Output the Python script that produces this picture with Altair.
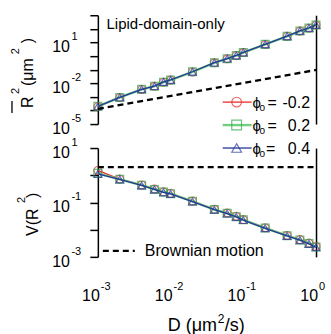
import altair as alt
import pandas as pd

FONT = "Liberation Sans"

# Diffusion coefficient of the lipid domains (um^2/s)
D_vals = [0.001, 0.002, 0.004, 0.006, 0.008, 0.01, 0.02, 0.04, 0.06, 0.08,
          0.1, 0.2, 0.4, 0.6, 0.8, 1.0]

# Mean squared displacement R^2 (um^2) for each phi0
msd_m02 = [1.9e-4, 8.9e-4, 3.5e-3, 6.0e-3, 1.2e-2, 1.7e-2, 6.8e-2, 0.32, 0.63,
           1.07, 1.8, 7.1, 28, 68, 112, 190]
msd_p02 = [2.0e-4, 9.0e-4, 3.6e-3, 6.1e-3, 1.2e-2, 1.7e-2, 6.9e-2, 0.32, 0.64,
           1.08, 1.8, 7.2, 28, 69, 113, 192]
msd_p04 = [2.0e-4, 9.2e-4, 3.6e-3, 6.2e-3, 1.25e-2, 1.75e-2, 7.0e-2, 0.33, 0.65,
           1.1, 1.85, 7.3, 29, 70, 115, 195]

# Variance V(R^2) for each phi0
var_m02 = [1.5, 0.72, 0.44, 0.31, 0.245, 0.215, 0.112, 0.056, 0.041, 0.031,
           0.0235, 0.0118, 0.0061, 0.0043, 0.0032, 0.0024]
var_p02 = [1.18, 0.71, 0.43, 0.30, 0.24, 0.21, 0.11, 0.055, 0.040, 0.030,
           0.023, 0.0115, 0.006, 0.0042, 0.0031, 0.0023]
var_p04 = [1.12, 0.70, 0.42, 0.30, 0.235, 0.205, 0.108, 0.054, 0.039, 0.0295,
           0.0225, 0.0112, 0.0059, 0.0041, 0.0030, 0.00225]

# Brownian motion reference
brown_D = [0.001, 1.0]
brown_msd = [1.3e-4, 0.095]
brown_var = [2.0, 2.0]

# Series styling
phi_labels = ["-0.2", "0.2", "0.4"]
line_colors = ["#ec2a2a", "#72cf80", "#26379b"]
mark_colors = ["#ec2a2a", "#2fa64c", "#26379b"]
line_widths = [1.3, 2.4, 1.3]
shapes = ["circle", "square", "triangle-up"]

# Tick values and label exponents
top_minor = [10.0 ** k for k in range(-5, 4)]
top_lab = [1e-5, 1e-2, 1e1]
top_exp = ["-5", "-2", "1"]
bot_minor = [10.0 ** k for k in range(-3, 2)]
bot_lab = [1e-3, 1e-1, 1e1]
bot_exp = ["-3", "-1", "1"]
x_minor = [m * 10.0 ** k for k in range(-3, 0) for m in range(1, 10)] + [1.0]
x_lab = [1e-3, 1e-2, 1e-1, 1.0]
x_exp = ["-3", "-2", "-1", "0"]

W = 218.5
H_TOP = 109
H_BOT = 109

xscale = alt.Scale(type="log", domain=[1e-3, 1], nice=False)
ys_top = alt.Scale(type="log", domain=[1e-5, 1e3], nice=False)
ys_bot = alt.Scale(type="log", domain=[1e-3, 10], nice=False)

ONE = pd.DataFrame({"a": [0]})


def line_axis(**kw):
    base = dict(title=None, grid=False, labels=False, domainColor="black",
                tickColor="black", domainWidth=1.5, tickWidth=1.5)
    base.update(kw)
    return alt.Axis(**base)


def txt(x, y, s, size=16, align="left", angle=None, baseline="alphabetic"):
    props = dict(align=align, baseline=baseline, fontSize=size, font=FONT,
                 color="black")
    if angle is not None:
        props["angle"] = angle
    return alt.Chart(ONE).mark_text(**props).encode(
        x=alt.value(x), y=alt.value(y), text=alt.value(s))


def series_layers(values, yscale, xaxis, yaxis):
    layers = []
    for i, vals in enumerate(values):
        df = pd.DataFrame({"D": D_vals, "v": vals})
        xa = xaxis if i == 0 else None
        ya = yaxis if i == 0 else None
        layers.append(alt.Chart(df).mark_line(
            color=line_colors[i], strokeWidth=line_widths[i]).encode(
            x=alt.X("D:Q", scale=xscale, axis=xa),
            y=alt.Y("v:Q", scale=yscale, axis=ya)))
        layers.append(alt.Chart(df).mark_point(
            shape=shapes[i], color=mark_colors[i], filled=False, size=62,
            strokeWidth=1.2).encode(
            x=alt.X("D:Q", scale=xscale, axis=None),
            y=alt.Y("v:Q", scale=yscale, axis=None)))
    return layers


def brown_layer(vals, yscale, yaxis):
    df = pd.DataFrame({"D": brown_D, "v": vals})
    return alt.Chart(df).mark_line(color="black", strokeWidth=2.3,
                                   strokeDash=[6, 4]).encode(
        x=alt.X("D:Q", scale=xscale, axis=None),
        y=alt.Y("v:Q", scale=yscale, axis=yaxis))


def y_tick_labels(ticks, exps, yscale):
    df = pd.DataFrame({"t": ticks, "e": exps})
    base = alt.Chart(df).encode(y=alt.Y("t:Q", scale=yscale, axis=None))
    return [
        base.mark_text(text="10", align="right", baseline="alphabetic", dy=10,
                       fontSize=16, font=FONT, color="black").encode(x=alt.value(-28)),
        base.mark_text(align="left", baseline="alphabetic", dy=-2,
                       fontSize=11, font=FONT, color="black").encode(
            x=alt.value(-26.5), text="e:N"),
    ]


# ---------- top panel: mean squared displacement ----------
frame = alt.Chart(ONE).mark_rect(opacity=0).encode(
    x=alt.value(-98), x2=alt.value(233), y=alt.value(-15), y2=alt.value(319))

top_layers = [frame]
top_layers += series_layers(
    [msd_m02, msd_p02, msd_p04], ys_top,
    line_axis(orient="top", offset=4.5, ticks=False),
    line_axis(orient="left", values=top_minor, tickSize=8))
top_layers.append(brown_layer(brown_msd, ys_top,
                              line_axis(orient="right", ticks=False)))
top_layers += y_tick_labels(top_lab, top_exp, ys_top)

# legend for phi0
for i, lab in enumerate(phi_labels):
    ry = 87 + 23 * i
    top_layers.append(alt.Chart(ONE).mark_rule(
        color=line_colors[i], strokeWidth=line_widths[i]).encode(
        x=alt.value(125), x2=alt.value(154), y=alt.value(ry)))
    top_layers.append(alt.Chart(ONE).mark_point(
        shape=shapes[i], color=mark_colors[i], filled=False, size=95,
        strokeWidth=1.2).encode(x=alt.value(139), y=alt.value(ry)))
    top_layers.append(txt(155, ry + 6, "ϕ", size=15))
    top_layers.append(txt(162, ry + 9, "0", size=10))
    top_layers.append(txt(170 if i < 2 else 168.5, ry + 6, "="))
    top_layers.append(txt(212.5, ry + 6, lab, align="right"))

top_layers.append(txt(8.7, 14, "Lipid-domain-only", size=15))

# y title: R^2 (um^2) with overline
top_layers.append(txt(-65, 93, "R", angle=270))
top_layers.append(alt.Chart(ONE).mark_rule(color="black", strokeWidth=1.3).encode(
    x=alt.value(-86), y=alt.value(86), y2=alt.value(98)))
top_layers.append(txt(-78.5, 79, "2", size=11, angle=270))
top_layers.append(txt(-65, 71, "(μm", angle=270))
top_layers.append(txt(-78.5, 39, "2", size=11, angle=270))
top_layers.append(txt(-65, 28, ")", angle=270))

top = alt.layer(*top_layers).resolve_axis(y="independent").properties(
    width=W, height=H_TOP)

# ---------- bottom panel: variance ----------
bot_layers = []
bot_layers += series_layers(
    [var_m02, var_p02, var_p04], ys_bot,
    line_axis(orient="bottom", offset=6, values=x_minor, tickSize=5),
    line_axis(orient="left", values=bot_minor, tickSize=8))
bot_layers.append(brown_layer(brown_var, ys_bot,
                              line_axis(orient="right", ticks=False)))
bot_layers += y_tick_labels(bot_lab, bot_exp, ys_bot)

# x tick labels
xdf = pd.DataFrame({"t": x_lab, "e": x_exp})
xbase = alt.Chart(xdf).encode(x=alt.X("t:Q", scale=xscale, axis=None))
bot_layers.append(xbase.mark_text(text="10", align="right", dx=2,
                                  baseline="alphabetic", fontSize=16, font=FONT,
                                  color="black").encode(y=alt.value(153)))
bot_layers.append(xbase.mark_text(align="left", dx=3, baseline="alphabetic",
                                  fontSize=11, font=FONT, color="black").encode(
    y=alt.value(142), text="e:N"))

# Brownian motion key
bot_layers.append(alt.Chart(ONE).mark_rule(
    color="black", strokeWidth=2.3, strokeDash=[6, 4]).encode(
    x=alt.value(5), x2=alt.value(37), y=alt.value(103)))
bot_layers.append(txt(47, 108, "Brownian motion"))

# x title: D (um^2/s)
bot_layers.append(txt(70, 183, "D (μm", size=18))
bot_layers.append(txt(120, 175, "2", size=12))
bot_layers.append(txt(127, 183, "/s)", size=18))

# y title: V(R^2)
bot_layers.append(txt(-59.5, 88, "V(R", angle=270))
bot_layers.append(txt(-72.5, 55, "2", size=11, angle=270))
bot_layers.append(txt(-59.5, 50, ")", angle=270))

bottom = alt.layer(*bot_layers).resolve_axis(y="independent").properties(
    width=W, height=H_BOT)

chart = alt.vconcat(top, bottom, spacing=24, bounds="flush").properties(
    padding=0, background="white").configure_view(stroke=None)

chart.save("out.html", embed_options={"renderer": "svg", "actions": False})
